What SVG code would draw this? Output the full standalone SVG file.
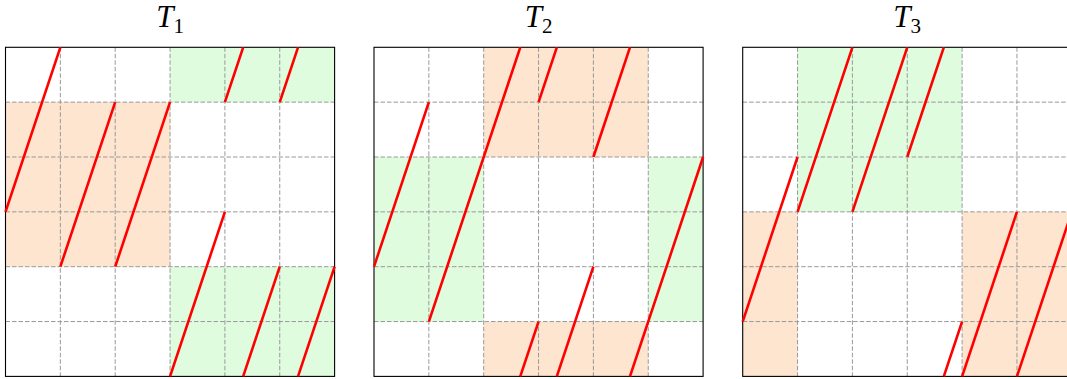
<svg xmlns="http://www.w3.org/2000/svg" width="1067" height="379" viewBox="0 0 1067 379">
<style>
.bg{fill:#ffffff}
.or{fill:#fde5cf}
.gr{fill:#dffcdf}
.grid{stroke:#999999;stroke-width:1;stroke-dasharray:4.5 2;fill:none}
.border{stroke:#000000;stroke-width:1.1;fill:none}
.red{stroke:#ff0000;stroke-width:2.6;stroke-linecap:butt;fill:none}
</style>
<defs>
<g id="gridlines">
<path class="grid" d="M54.85 0V329.1M109.7 0V329.1M164.55 0V329.1M219.4 0V329.1M274.25 0V329.1M0 54.85H329.1M0 109.7H329.1M0 164.55H329.1M0 219.4H329.1M0 274.25H329.1"/>
</g>
</defs>
<rect width="1067" height="379" class="bg"/>

<g id="title1"><text x="170" y="27" text-anchor="middle" font-family="'Liberation Serif', 'Times New Roman', serif" font-size="31" fill="#000"><tspan font-style="italic">T</tspan><tspan font-size="21" dy="6">1</tspan></text></g>
<g id="title2"><text x="538.5" y="27" text-anchor="middle" font-family="'Liberation Serif', 'Times New Roman', serif" font-size="31" fill="#000"><tspan font-style="italic">T</tspan><tspan font-size="21" dy="6">2</tspan></text></g>
<g id="title3"><text x="907.2" y="27" text-anchor="middle" font-family="'Liberation Serif', 'Times New Roman', serif" font-size="31" fill="#000"><tspan font-style="italic">T</tspan><tspan font-size="21" dy="6">3</tspan></text></g>

<g id="panel1" transform="translate(5.5,47.3)">
<rect class="or" x="0" y="54.85" width="164.55" height="164.55"/>
<rect class="gr" x="164.55" y="0" width="164.55" height="54.85"/>
<rect class="gr" x="164.55" y="219.4" width="164.55" height="109.7"/>
<use href="#gridlines"/>
<rect class="border" x="0" y="0" width="329.1" height="329.1"/>
<g id="lines1">
<path class="red" d="M0 164.55L54.85 0M54.85 219.4L109.7 54.85M109.7 219.4L164.55 54.85M219.4 54.85L237.68 0M274.25 54.85L292.53 0M164.55 329.1L219.4 164.55M237.68 329.1L274.25 219.4M292.53 329.1L329.1 219.4"/>
</g>
</g>

<g id="panel2" transform="translate(374,47.3)">
<rect class="or" x="109.7" y="0" width="164.55" height="109.7"/>
<rect class="or" x="109.7" y="274.25" width="164.55" height="54.85"/>
<rect class="gr" x="0" y="109.7" width="109.7" height="164.55"/>
<rect class="gr" x="274.25" y="109.7" width="54.85" height="164.55"/>
<use href="#gridlines"/>
<rect class="border" x="0" y="0" width="329.1" height="329.1"/>
<g id="lines2">
<path class="red" d="M0 219.4L54.85 54.85M54.85 274.25L146.27 0M164.55 54.85L182.83 0M219.4 109.7L255.97 0M255.97 329.1L329.1 109.7M146.27 329.1L164.55 274.25M182.83 329.1L219.4 219.4"/>
</g>
</g>

<g id="panel3" transform="translate(742.7,47.3)">
<rect class="gr" x="54.85" y="0" width="164.55" height="164.55"/>
<rect class="or" x="0" y="164.55" width="54.85" height="164.55"/>
<rect class="or" x="219.4" y="164.55" width="109.7" height="164.55"/>
<use href="#gridlines"/>
<rect class="border" x="0" y="0" width="329.1" height="329.1"/>
<g id="lines3">
<path class="red" d="M0 274.25L54.85 109.7M54.85 164.55L109.7 0M109.7 164.55L164.55 0M164.55 109.7L201.12 0M201.12 329.1L219.4 274.25M219.4 329.1L274.25 164.55M274.25 329.1L329.1 164.55"/>
</g>
</g>
</svg>
